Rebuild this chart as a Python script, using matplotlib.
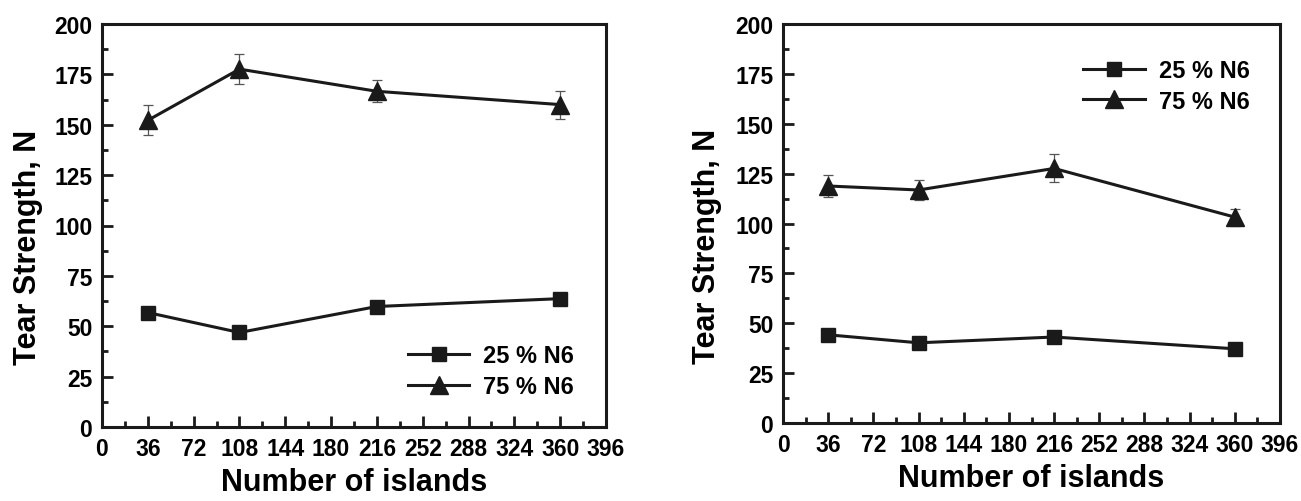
import matplotlib
matplotlib.use("Agg")
import matplotlib.pyplot as plt
from matplotlib.ticker import MultipleLocator

plt.rcParams['font.family'] = ['Liberation Sans', 'DejaVu Sans']
plt.rcParams['font.weight'] = 'bold'
plt.rcParams['axes.labelweight'] = 'bold'

# number of islands
islands = [36, 108, 216, 360]

# left panel
left_25 = [56.8, 46.9, 59.8, 63.7]
left_75 = [152.2, 177.6, 166.6, 160.0]
left_75_err = [7.5, 7.5, 5.4, 6.9]

# right panel
right_25 = [44.2, 40.2, 43.1, 37.2]
right_75 = [118.8, 116.8, 127.6, 103.2]
right_75_err = [5.4, 4.8, 7.0, 4.3]

labels = ['25 % N6', '75 % N6']
xticks = [0, 36, 72, 108, 144, 180, 216, 252, 288, 324, 360, 396]
yticks = [0, 25, 50, 75, 100, 125, 150, 175, 200]

W, H = 1301, 502
fig = plt.figure(figsize=(W / 100, H / 100), dpi=100)
ax1 = fig.add_axes([102 / W, (H - 428) / H, 504 / W, 403 / H])
ax2 = fig.add_axes([783 / W, (H - 424) / H, 497 / W, 399 / H])

ink = '#1a1a1a'


def draw(ax, s25, s75, e75):
    ax.errorbar(islands, s75, yerr=e75, fmt='none', ecolor='#555555',
                elinewidth=0.9, capsize=3.5, capthick=0.9, zorder=2)
    ax.plot(islands, s25, marker='s', markersize=9.5, color=ink, lw=2.2,
            label=labels[0], zorder=3)
    ax.plot(islands, s75, marker='^', markersize=13, color=ink, lw=2.2,
            label=labels[1], zorder=3)
    ax.set_xlim(0, 396)
    ax.set_ylim(0, 200)
    ax.set_xticks(xticks)
    ax.set_yticks(yticks)
    ax.xaxis.set_minor_locator(MultipleLocator(18))
    ax.yaxis.set_minor_locator(MultipleLocator(12.5))
    ax.tick_params(which='both', direction='in', top=False, right=False,
                   color=ink, width=2)
    ax.tick_params(which='major', length=8, labelsize=16.5, pad=7)
    ax.tick_params(which='minor', length=4)
    for sp in ax.spines.values():
        sp.set_linewidth(2.2)
        sp.set_color(ink)
    ax.set_xlabel('Number of islands', fontsize=22, labelpad=5)
    ax.set_ylabel('Tear Strength, N', fontsize=22)


draw(ax1, left_25, left_75, left_75_err)
draw(ax2, right_25, right_75, right_75_err)
ax1.yaxis.set_label_coords(-0.118, 0.449)
ax2.yaxis.set_label_coords(-0.123, 0.446)

ax1.legend(loc='upper left', bbox_to_anchor=(0.607, 0.205), frameon=False,
           fontsize=17, handlelength=2.6, handletextpad=0.6,
           labelspacing=0.32, borderpad=0, borderaxespad=0)
ax2.legend(loc='upper left', bbox_to_anchor=(0.604, 0.912), frameon=False,
           fontsize=17, handlelength=2.6, handletextpad=0.6,
           labelspacing=0.32, borderpad=0, borderaxespad=0)

fig.savefig('out.png', dpi=100)
